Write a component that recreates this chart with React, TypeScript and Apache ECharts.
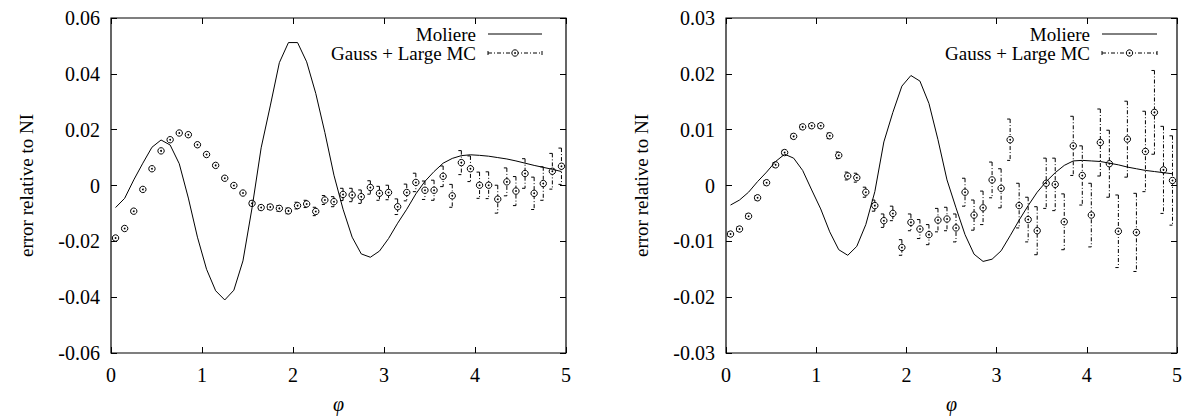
import { useEffect, useRef } from 'react';
import * as echarts from 'echarts';

const phi = [
  0.05, 0.15, 0.25, 0.35, 0.45, 0.55, 0.65, 0.75, 0.85, 0.95,
  1.05, 1.15, 1.25, 1.35, 1.45, 1.55, 1.65, 1.75, 1.85, 1.95,
  2.05, 2.15, 2.25, 2.35, 2.45, 2.55, 2.65, 2.75, 2.85, 2.95,
  3.05, 3.15, 3.25, 3.35, 3.45, 3.55, 3.65, 3.75, 3.85, 3.95,
  4.05, 4.15, 4.25, 4.35, 4.45, 4.55, 4.65, 4.75, 4.85, 4.95,
];

const moliereLeft = [
  -0.0079, -0.0046, 0.002, 0.008, 0.0137, 0.0163, 0.0145, 0.0078, -0.0045, -0.0185,
  -0.03, -0.0377, -0.041, -0.0375, -0.027, -0.008, 0.0135, 0.0285, 0.044, 0.0512,
  0.0512, 0.0443, 0.033, 0.019, 0.0037, -0.0085, -0.0185, -0.0245, -0.0257, -0.0235,
  -0.019, -0.0135, -0.0085, -0.003, 0.0015, 0.005, 0.008, 0.0097, 0.0107, 0.011,
  0.0108, 0.0105, 0.01, 0.0095, 0.0088, 0.008, 0.0072, 0.0065, 0.0058, 0.005,
];

const mcLeft = [
  -0.0188, -0.0154, -0.0092, -0.0014, 0.006, 0.0124, 0.0164, 0.0188, 0.0182, 0.0146,
  0.0111, 0.0072, 0.0026, 0.0, -0.0027, -0.0064, -0.0079, -0.0077, -0.0082, -0.0091,
  -0.0072, -0.0066, -0.0093, -0.0052, -0.0058, -0.0032, -0.0034, -0.004, -0.0007, -0.0028,
  -0.0025, -0.0076, -0.0025, 0.0011, -0.0017, -0.0017, 0.0033, -0.0037, 0.0082, 0.006,
  0.0001, 0.0001, -0.0049, 0.0013, -0.002, 0.0043, -0.0028, 0.0007, 0.0051, 0.0069,
];

const errLeft = [
  0.0005, 0.0005, 0.0005, 0.0005, 0.0005, 0.0005, 0.0005, 0.0005, 0.0005, 0.0005,
  0.0005, 0.0005, 0.0005, 0.0005, 0.0005, 0.0008, 0.0008, 0.0009, 0.001, 0.001,
  0.0012, 0.0013, 0.0015, 0.0016, 0.0018, 0.0022, 0.0024, 0.0024, 0.0024, 0.0025,
  0.0026, 0.0028, 0.003, 0.0033, 0.0033, 0.0036, 0.0037, 0.0041, 0.0043, 0.0046,
  0.0047, 0.0048, 0.005, 0.005, 0.0052, 0.0053, 0.0058, 0.006, 0.0064, 0.0065,
];

const moliereRight = [
  -0.0035, -0.0026, -0.0012, 0.0007, 0.0024, 0.0043, 0.0056, 0.0049, 0.0027, -0.0008,
  -0.0042, -0.0083, -0.0115, -0.0125, -0.0109, -0.007, -0.0011, 0.0078, 0.0131, 0.0178,
  0.0197, 0.0187, 0.0147, 0.0082, 0.001, -0.004, -0.0088, -0.0123, -0.0136, -0.0132,
  -0.0117, -0.009, -0.0062, -0.0036, -0.0012, 0.0007, 0.0023, 0.0036, 0.0044, 0.0045,
  0.0044, 0.0043, 0.004, 0.0037, 0.0033, 0.003, 0.0027, 0.0025, 0.0023, 0.0021,
];

const mcRight = [
  -0.0087, -0.0078, -0.0055, -0.0022, 0.0005, 0.0037, 0.0059, 0.0088, 0.0105, 0.0107,
  0.0107, 0.0089, 0.0054, 0.0017, 0.0014, -0.0012, -0.0036, -0.0063, -0.005, -0.0111,
  -0.0066, -0.0078, -0.0088, -0.0062, -0.006, -0.0076, -0.0012, -0.0053, -0.004, 0.001,
  -0.0005, 0.0082, -0.0036, -0.0061, -0.0081, 0.0004, 0.0002, -0.0065, 0.0071, 0.0018,
  -0.0053, 0.0077, 0.0039, -0.0082, 0.0083, -0.0084, 0.0061, 0.0131, 0.0028, 0.0009,
];

const errRight = [
  0.0004, 0.0004, 0.0004, 0.0004, 0.0004, 0.0004, 0.0004, 0.0004, 0.0004, 0.0004,
  0.0004, 0.0005, 0.0006, 0.0007, 0.0008, 0.0009, 0.001, 0.0012, 0.0013, 0.0014,
  0.0015, 0.0017, 0.0018, 0.0021, 0.0021, 0.0025, 0.0025, 0.0027, 0.003, 0.0032,
  0.0035, 0.0037, 0.004, 0.004, 0.0043, 0.0045, 0.0047, 0.005, 0.0053, 0.0053,
  0.0057, 0.006, 0.006, 0.0065, 0.0068, 0.007, 0.0072, 0.0075, 0.0078, 0.008,
];

const legendNames = ['Moliere', 'Gauss + Large MC'];
const yNameText = 'error relative to NI';
const xNameText = 'φ';

const FONT = 'Liberation Serif';
const DASH = [4, 2, 1, 2];

function renderErr(params: any, api: any) {
  const x = api.value(0);
  const y = api.value(1);
  const e = api.value(2);
  const p = api.coord([x, y]);
  const t = api.coord([x, y + e]);
  const b = api.coord([x, y - e]);
  const stroke = { stroke: '#000', lineWidth: 1 };
  return {
    type: 'group',
    children: [
      { type: 'line', shape: { x1: p[0], y1: t[1], x2: p[0], y2: b[1] }, style: { ...stroke, lineDash: DASH } },
      { type: 'line', shape: { x1: p[0] - 3, y1: t[1], x2: p[0], y2: t[1] }, style: stroke },
      { type: 'line', shape: { x1: p[0] - 3, y1: b[1], x2: p[0], y2: b[1] }, style: stroke },
      { type: 'circle', shape: { cx: p[0], cy: p[1], r: 3.2 }, style: { fill: '#fff', stroke: '#000', lineWidth: 1 } },
      { type: 'circle', shape: { cx: p[0], cy: p[1], r: 0.9 }, style: { fill: '#000' } },
    ],
  };
}

function legendGraphic(textRight: number, sx1: number, sx2: number) {
  const y1 = 34;
  const y2 = 53;
  const cx = (sx1 + sx2) / 2;
  const ts = { fill: '#000', fontSize: 19, fontFamily: FONT, textAlign: 'right', textVerticalAlign: 'middle' };
  return [
    { type: 'text', x: textRight, y: y1, style: { ...ts, text: legendNames[0] } },
    { type: 'line', shape: { x1: sx1, y1: y1, x2: sx2, y2: y1 }, style: { stroke: '#000', lineWidth: 1 } },
    { type: 'text', x: textRight, y: y2, style: { ...ts, text: legendNames[1] } },
    { type: 'line', shape: { x1: sx1, y1: y2, x2: sx2, y2: y2 }, style: { stroke: '#000', lineWidth: 1, lineDash: DASH } },
    { type: 'line', shape: { x1: sx1, y1: y2 - 2, x2: sx1, y2: y2 + 2 }, style: { stroke: '#000', lineWidth: 1 } },
    { type: 'line', shape: { x1: sx2, y1: y2 - 2, x2: sx2, y2: y2 + 2 }, style: { stroke: '#000', lineWidth: 1 } },
    { type: 'circle', shape: { cx, cy: y2, r: 3.2 }, style: { fill: '#fff', stroke: '#000', lineWidth: 1 } },
    { type: 'circle', shape: { cx, cy: y2, r: 0.9 }, style: { fill: '#000' } },
  ];
}

function xAxes(gridIndex: number) {
  const common = {
    gridIndex,
    type: 'value',
    min: 0,
    max: 5,
    interval: 1,
    axisLine: { show: false, onZero: false },
    splitLine: { show: false },
    axisTick: { inside: true, length: 6, lineStyle: { color: '#000', width: 1 } },
  };
  return [
    {
      ...common,
      position: 'bottom',
      axisLabel: { color: '#000', fontSize: 20, fontFamily: FONT, margin: 12 },
      name: xNameText,
      nameLocation: 'middle',
      nameGap: 42,
      nameTextStyle: { color: '#000', fontSize: 20, fontFamily: FONT, fontStyle: 'italic', lineHeight: 18 },
    },
    { ...common, position: 'top', axisLabel: { show: false } },
  ];
}

function yAxes(gridIndex: number, lim: number, step: number) {
  const common = {
    gridIndex,
    type: 'value',
    min: -lim,
    max: lim,
    interval: step,
    axisLine: { show: false, onZero: false },
    splitLine: { show: false },
    axisTick: { inside: true, length: 6, lineStyle: { color: '#000', width: 1 } },
  };
  return [
    {
      ...common,
      position: 'left',
      axisLabel: { color: '#000', fontSize: 20, fontFamily: FONT, margin: 11 },
      name: yNameText,
      nameLocation: 'middle',
      nameGap: 75,
      nameTextStyle: { color: '#000', fontSize: 19, fontFamily: FONT },
    },
    { ...common, position: 'right', axisLabel: { show: false } },
  ];
}

export default function App() {
  const ref = useRef<HTMLDivElement>(null);
  useEffect(() => {
    const chart = echarts.init(ref.current!, null, { renderer: 'svg' });
    const option: any = {
      animation: false,
      backgroundColor: '#fff',
      textStyle: { fontFamily: FONT, color: '#000' },
      grid: [
        { left: 111, top: 18, width: 455, height: 338, show: true, borderColor: '#000', borderWidth: 1.2, backgroundColor: 'transparent' },
        { left: 726, top: 18, width: 456, height: 338, show: true, borderColor: '#000', borderWidth: 1.2, backgroundColor: 'transparent' },
      ],
      xAxis: [...xAxes(0), ...xAxes(1)],
      yAxis: [...yAxes(0, 0.06, 0.02), ...yAxes(1, 0.03, 0.01)],
      series: [
        {
          name: legendNames[0],
          type: 'line',
          xAxisIndex: 0,
          yAxisIndex: 0,
          symbol: 'none',
          lineStyle: { color: '#000', width: 1 },
          data: phi.map((x, i) => [x, moliereLeft[i]]),
        },
        {
          name: legendNames[1],
          type: 'custom',
          xAxisIndex: 0,
          yAxisIndex: 0,
          renderItem: renderErr,
          encode: { x: 0, y: 1 },
          data: phi.map((x, i) => [x, mcLeft[i], errLeft[i]]),
        },
        {
          name: legendNames[0],
          type: 'line',
          xAxisIndex: 2,
          yAxisIndex: 2,
          symbol: 'none',
          lineStyle: { color: '#000', width: 1 },
          data: phi.map((x, i) => [x, moliereRight[i]]),
        },
        {
          name: legendNames[1],
          type: 'custom',
          xAxisIndex: 2,
          yAxisIndex: 2,
          renderItem: renderErr,
          encode: { x: 0, y: 1 },
          data: phi.map((x, i) => [x, mcRight[i], errRight[i]]),
        },
      ],
      graphic: [...legendGraphic(476, 488, 542), ...legendGraphic(1090, 1102, 1157)],
    };
    chart.setOption(option);
    return () => chart.dispose();
  }, []);
  return (
    <div
      ref={ref}
      style={{ position: 'absolute', left: 0, top: 0, width: 1185, height: 419, overflow: 'hidden' }}
    />
  );
}
